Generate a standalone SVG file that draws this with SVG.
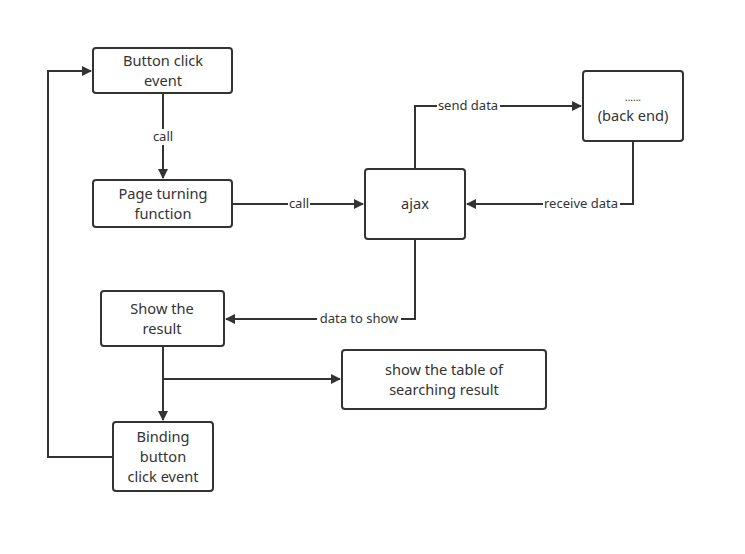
<svg xmlns="http://www.w3.org/2000/svg" width="745" height="554" viewBox="0 0 745 554">
<style>
.n{fill:#fff;stroke:#333;stroke-width:2}
.t{font-family:"Noto Sans","Open Sans",sans-serif;font-size:14.6px;fill:#333;text-anchor:middle}
.l{font-family:"Noto Sans","Open Sans",sans-serif;font-size:13px;fill:#333;text-anchor:middle}
.c{fill:none;stroke:#333;stroke-width:2}
.bg{fill:#fff}
</style>
<defs>
<marker id="a" markerWidth="10" markerHeight="10" refX="9" refY="5" orient="auto" markerUnits="userSpaceOnUse">
<path d="M0,0 L10,5 L0,10 L0,0 Z" fill="#333"/>
</marker>
</defs>
<rect width="745" height="554" fill="#fff"/>
<g id="connectors">
<path class="c" d="M163,94 V178" marker-end="url(#a)"/>
<rect class="bg" x="151" y="129" width="24" height="16"/>
<text class="l" x="163" y="141">call</text>
<path class="c" d="M233,204 H363" marker-end="url(#a)"/>
<rect class="bg" x="288" y="196" width="22" height="16"/>
<text class="l" x="299" y="208">call</text>
<path class="c" d="M415,168 V106 H581" marker-end="url(#a)"/>
<rect class="bg" x="437" y="98" width="63" height="16"/>
<text class="l" x="468" y="110">send data</text>
<path class="c" d="M633,142 V204 H467" marker-end="url(#a)"/>
<rect class="bg" x="543" y="196" width="77" height="16"/>
<text class="l" x="581" y="208">receive data</text>
<path class="c" d="M415,240 V319 H226" marker-end="url(#a)"/>
<rect class="bg" x="317" y="311" width="84" height="16"/>
<text class="l" x="359" y="323">data to show</text>
<path class="c" d="M163,347 V420" marker-end="url(#a)"/>
<path class="c" d="M163,379 H340" marker-end="url(#a)"/>
<path class="c" d="M112,457 H48 V71 H91" marker-end="url(#a)"/>
</g>
<g id="button-click">
<rect class="n" x="93" y="48" width="139" height="45" rx="3"/>
<text class="t" x="163" y="66">Button click</text>
<text class="t" x="163" y="86">event</text>
</g>
<g id="page-turning">
<rect class="n" x="93" y="180" width="139" height="47" rx="3"/>
<text class="t" x="163" y="199">Page turning</text>
<text class="t" x="163" y="219">function</text>
</g>
<g id="ajax">
<rect class="n" x="365" y="169" width="100" height="70" rx="3"/>
<text class="t" x="415" y="209">ajax</text>
</g>
<g id="back-end">
<rect class="n" x="583" y="71" width="100" height="70" rx="3"/>
<text class="t" x="633" y="101" style="font-size:10px">......</text>
<text class="t" x="633" y="121">(back end)</text>
</g>
<g id="show-result">
<rect class="n" x="101" y="291" width="123" height="55" rx="3"/>
<text class="t" x="162" y="314">Show the</text>
<text class="t" x="162" y="334">result</text>
</g>
<g id="show-table">
<rect class="n" x="342" y="350" width="204" height="59" rx="3"/>
<text class="t" x="444" y="375">show the table of</text>
<text class="t" x="444" y="395">searching result</text>
</g>
<g id="binding">
<rect class="n" x="113" y="422" width="100" height="69" rx="3"/>
<text class="t" x="163" y="442">Binding</text>
<text class="t" x="163" y="462">button</text>
<text class="t" x="163" y="482">click event</text>
</g>
</svg>
